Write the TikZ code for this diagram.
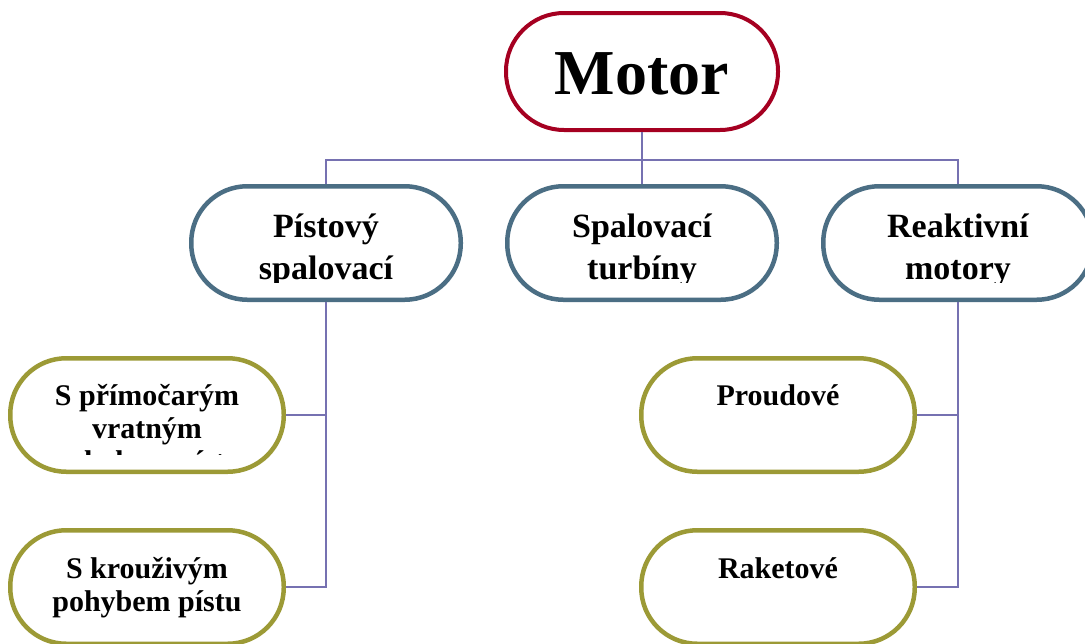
\documentclass[tikz,border=0pt]{standalone}
\usepackage{fontspec}
\setmainfont{Liberation Serif}
\definecolor{motorred}{HTML}{A50021}
\definecolor{steel}{HTML}{4B6E84}
\definecolor{olivebox}{HTML}{9C9A36}
\definecolor{linkc}{HTML}{7671B1}
\tikzset{
  box/.style={draw, fill=white, rectangle, inner sep=0pt, line width=4.5pt, rounded corners=56pt},
  topbox/.style={box, draw=motorred, line width=4pt, minimum width=272pt, minimum height=117pt, rounded corners=58pt},
  midbox/.style={box, draw=steel, minimum width=269.5pt, minimum height=113.5pt},
  leafbox/.style={box, draw=olivebox, minimum width=273.5pt, minimum height=113.5pt},
  conn/.style={draw=linkc, line width=1.5pt},
  lbl/.style={anchor=base, inner sep=0pt, font=\bfseries},
}
% label set inside a box, cut off a little above the bottom border
\newcommand\boxlabel[5]{%
  \begin{scope}
    \clip ([yshift=2pt]#2.north west) rectangle ([yshift=20pt]#2.south east);
    \node[lbl] (#1) at ([yshift=-#3]#2.north) {\parbox[t]{270pt}{\centering#4 #5}};
  \end{scope}}
\newcommand\midsize{\fontsize{34}{42}\selectfont}
\newcommand\leafsize{\fontsize{30}{33}\selectfont}
\begin{document}
\begin{tikzpicture}[x=1pt, y=-1pt]
  \path[fill=white, use as bounding box] (0,0) rectangle (1085,643);

  % boxes
  \node[topbox] (motor) at (642,71.5) {};
  \node[midbox] (piston) at (326,243) {};
  \node[midbox] (turbine) at (642,243) {};
  \node[midbox] (jet) at (958,243) {};
  \node[leafbox] (linear) at (147,415) {};
  \node[leafbox] (rotary) at (147,587) {};
  \node[leafbox] (stream) at (778,415) {};
  \node[leafbox] (rocket) at (778,587) {};

  % connectors
  \coordinate (bus) at (642,160);
  \draw[conn] (motor.south) -- (turbine.north);
  \draw[conn] (piston.north) |- (bus);
  \draw[conn] (jet.north) |- (bus);
  \draw[conn] (piston.south) |- (linear.east);
  \draw[conn] (piston.south) |- (rotary.east);
  \draw[conn] (jet.south) |- (stream.east);
  \draw[conn] (jet.south) |- (rocket.east);

  % labels
  \node[lbl, font=\bfseries\fontsize{64}{70}\selectfont] (motor-t) at ([yshift=-22.5pt]motor.center) {Motor};
  \boxlabel{piston-t}{piston}{53pt}{\midsize}{Pístový\\spalovací}
  \boxlabel{turbine-t}{turbine}{53pt}{\midsize}{Spalovací\\turbíny}
  \boxlabel{jet-t}{jet}{53pt}{\midsize}{Reaktivní\\motory}
  \boxlabel{linear-t}{linear}{49pt}{\leafsize}{S přímočarým\\vratným\\pohybem pístu}
  \boxlabel{rotary-t}{rotary}{50pt}{\leafsize}{S krouživým\\pohybem pístu}
  \boxlabel{stream-t}{stream}{49pt}{\leafsize}{Proudové}
  \boxlabel{rocket-t}{rocket}{50pt}{\leafsize}{Raketové}
\end{tikzpicture}
\end{document}
